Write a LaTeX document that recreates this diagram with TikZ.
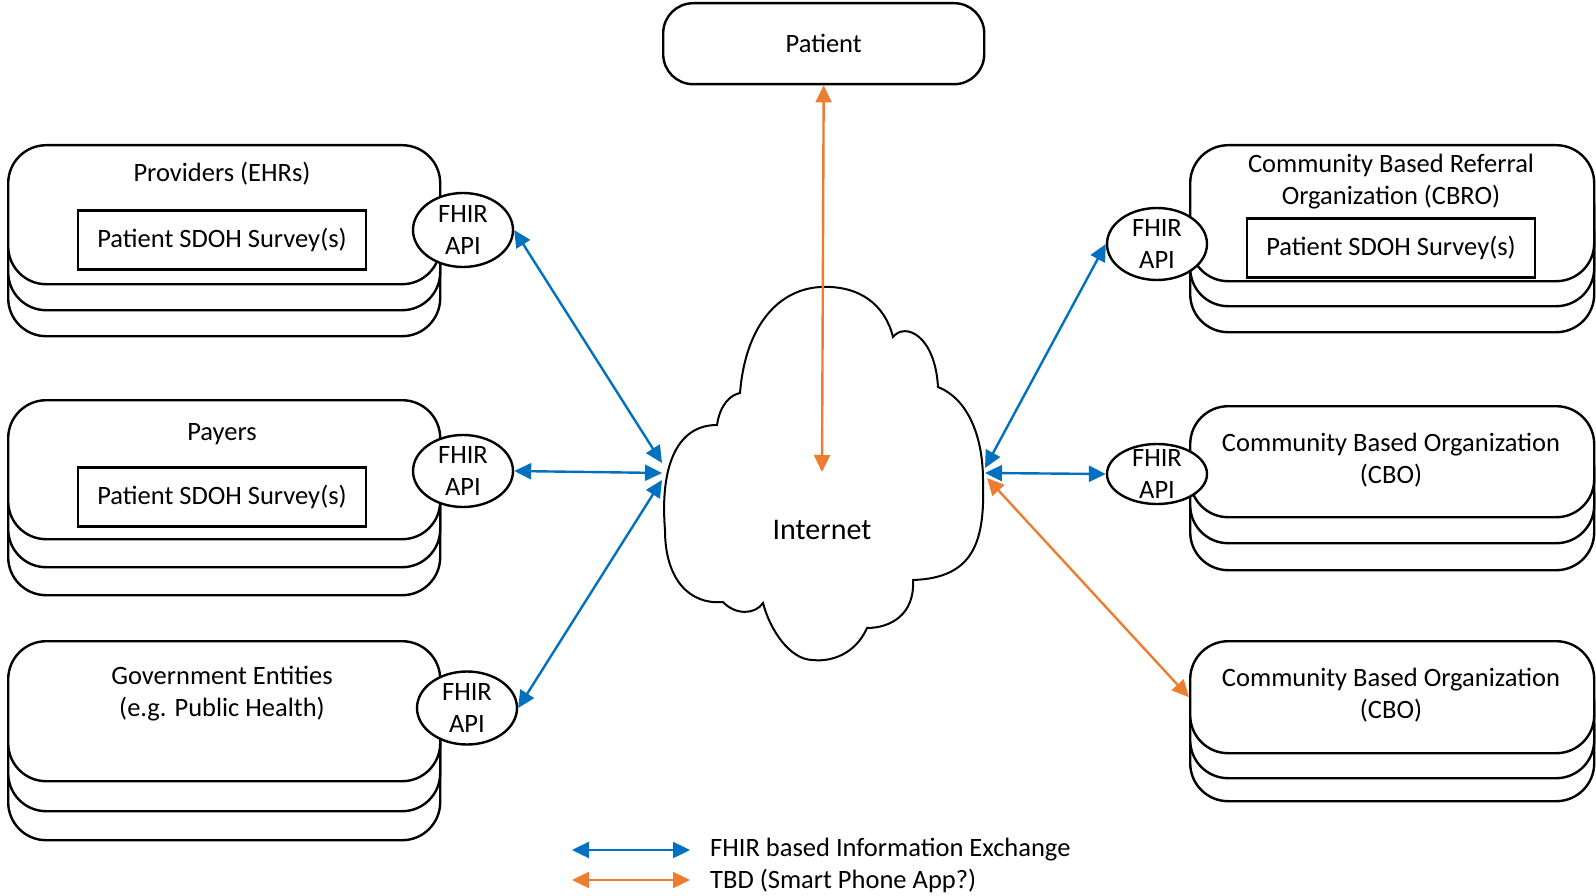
\documentclass[tikz,border=0pt]{standalone}
\usepackage{fontspec}
\setmainfont{Carlito}
\usetikzlibrary{arrows.meta,shapes.geometric}
\definecolor{fblue}{RGB}{0,112,192}
\definecolor{forange}{RGB}{237,125,49}
\begin{document}
\begin{tikzpicture}[x=1pt,y=-1pt,
  font=\fontsize{26.5}{32}\selectfont,
  stackbox/.style={draw=black,line width=2.4pt,fill=white,rounded corners=38pt,anchor=north west,inner sep=0pt},
  survey/.style={draw=black,line width=2.4pt,fill=white,minimum width=288pt,minimum height=59pt,inner sep=0pt},
  api/.style={ellipse,draw=black,line width=2.4pt,fill=white,minimum width=100pt,inner sep=0pt},
  lbl/.style={align=center,inner sep=0pt},
  tip/.style={Triangle[length=17pt,width=16pt]},
  fhirarrow/.style={draw=fblue,line width=2.4pt,{Triangle[length=17pt,width=16pt]}-{Triangle[length=17pt,width=16pt]}},
  tbdarrow/.style={draw=forange,line width=2.4pt,{Triangle[length=17pt,width=16pt]}-{Triangle[length=17pt,width=16pt]}},
]
\useasboundingbox (0,0) rectangle (1596,896);

% Patient
\node[stackbox,rounded corners=30pt,minimum width=321pt,minimum height=81pt] (patient) at (662,2) {Patient};

% Providers stack
\node[stackbox,minimum width=432pt,minimum height=139pt] (prov3) at (7,196) {};
\node[stackbox,minimum width=432pt,minimum height=139pt] (prov2) at (7,170) {};
\node[stackbox,minimum width=432pt,minimum height=139pt] (prov) at (7,144) {};
\node[lbl] (provt) at (222,174) {Providers (EHRs)};
\node[survey] (provs) at (222,240) {Patient SDOH Survey(s)};

% Payers stack
\node[stackbox,minimum width=432pt,minimum height=139pt] (pay3) at (7,455) {};
\node[stackbox,minimum width=432pt,minimum height=139pt] (pay2) at (7,427) {};
\node[stackbox,minimum width=432pt,minimum height=139pt] (pay) at (7,399) {};
\node[lbl] (payt) at (222,434) {Payers};
\node[survey] (pays) at (222,497) {Patient SDOH Survey(s)};

% Government stack
\node[stackbox,minimum width=432pt,minimum height=140pt] (gov3) at (7,699) {};
\node[stackbox,minimum width=432pt,minimum height=140pt] (gov2) at (7,670) {};
\node[stackbox,minimum width=432pt,minimum height=140pt] (gov) at (7,640) {};
\node[lbl] (govt) at (222,694) {Government Entities\\(e.g. Public Health)};

% CBRO stack
\node[stackbox,minimum width=404pt,minimum height=136pt] (cbro3) at (1189,195) {};
\node[stackbox,minimum width=404pt,minimum height=136pt] (cbro2) at (1189,169) {};
\node[stackbox,minimum width=404pt,minimum height=136pt] (cbro) at (1189,144) {};
\node[lbl] (cbrot) at (1391,182) {Community Based Referral\\Organization (CBRO)};
\node[survey] (cbros) at (1391,248) {Patient SDOH Survey(s)};

% CBO 1 stack
\node[stackbox,minimum width=404pt,minimum height=111pt] (cboa3) at (1189,458) {};
\node[stackbox,minimum width=404pt,minimum height=111pt] (cboa2) at (1189,431) {};
\node[stackbox,minimum width=404pt,minimum height=111pt] (cboa) at (1189,405) {};
\node[lbl] (cboat) at (1391,460) {Community Based Organization\\(CBO)};

% CBO 2 stack
\node[stackbox,minimum width=404pt,minimum height=112pt] (cbob3) at (1189,688) {};
\node[stackbox,minimum width=404pt,minimum height=112pt] (cbob2) at (1189,665) {};
\node[stackbox,minimum width=404pt,minimum height=112pt] (cbob) at (1189,640) {};
\node[lbl] (cbobt) at (1391,695) {Community Based Organization\\(CBO)};

% FHIR API ellipses
\node[api,minimum height=74pt] (provapi) at (463,230) {};
\node[lbl] (provapit) at (provapi) {FHIR\\API};
\node[api,minimum height=72pt] (payapi) at (463,471) {};
\node[lbl] (payapit) at (payapi) {FHIR\\API};
\node[api,minimum height=73pt] (govapi) at (467,708) {};
\node[lbl] (govapit) at (govapi) {FHIR\\API};
\node[api,minimum height=72pt] (cbroapi) at (1157,244) {};
\node[lbl] (cbroapit) at (cbroapi) {FHIR\\API};
\node[api,minimum height=60pt] (cboaapi) at (1157,474) {};
\node[lbl] (cboaapit) at (cboaapi) {FHIR\\API};

% Internet cloud
\draw[line width=2pt,fill=white] (740,393) .. controls (745,330) and (775,290) .. (820,287)
 .. controls (860,285) and (885,305) .. (893,337)
 .. controls (905,322) and (935,335) .. (938,387)
 .. controls (970,400) and (983,440) .. (983,480)
 .. controls (985,540) and (975,578) .. (913,580)
 .. controls (915,615) and (890,628) .. (867,628)
 .. controls (855,655) and (830,662) .. (813,660)
 .. controls (790,660) and (770,630) .. (763,603)
 .. controls (755,615) and (735,615) .. (723,602)
 .. controls (690,605) and (665,580) .. (665,530)
 .. controls (660,470) and (675,425) .. (717,425)
 .. controls (720,405) and (730,395) .. cycle;
\node[lbl,font=\fontsize{30}{36}\selectfont] (internet) at (822,530) {Internet};

% cloud attachment points
\coordinate (cl1) at (662,463);
\coordinate (cl2) at (662,473);
\coordinate (cl3) at (662,480);
\coordinate (cr1) at (985,468);
\coordinate (cr2) at (985,473);
\coordinate (cr3) at (987,478);
\coordinate (ctop) at (822,472);

% connectors
\draw[tbdarrow] (patient.south) -- (ctop);
\draw[fhirarrow] (provapi.east) -- (cl1);
\draw[fhirarrow] (payapi.east) -- (cl2);
\draw[fhirarrow] (govapi.east) -- (cl3);
\draw[fhirarrow] (cbroapi.west) -- (cr1);
\draw[fhirarrow] (cboaapi.west) -- (cr2);
\draw[tbdarrow] (cbob.west) -- (cr3);

% legend
\coordinate (lga) at (572,850);
\coordinate (lgb) at (690,850);
\coordinate (lgc) at (572,880);
\coordinate (lgd) at (690,880);
\draw[fhirarrow] (lga) -- (lgb);
\draw[tbdarrow] (lgc) -- (lgd);
\node[anchor=west,inner sep=0pt] (lgt1) at (710,850) {FHIR based Information Exchange};
\node[anchor=west,inner sep=0pt] (lgt2) at (710,881) {TBD (Smart Phone App?)};
\end{tikzpicture}
\end{document}
